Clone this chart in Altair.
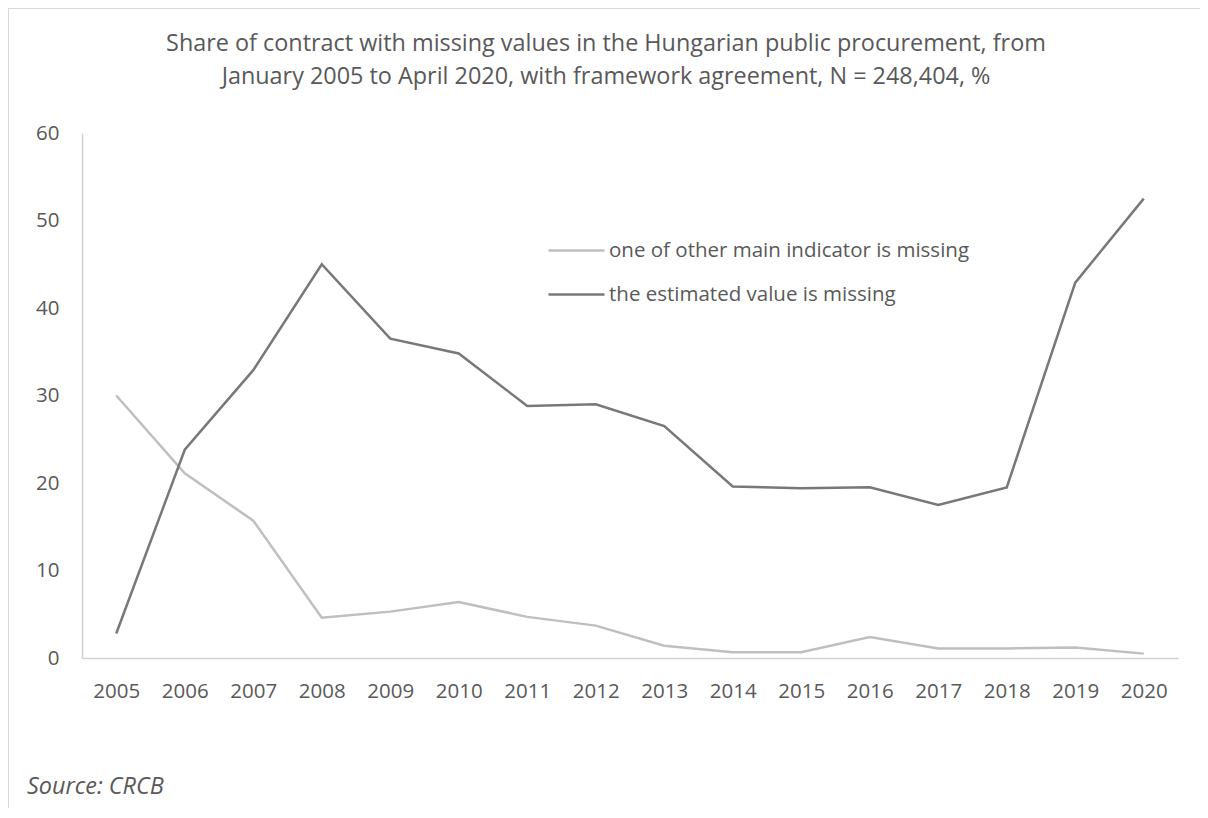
import altair as alt
import pandas as pd

years = ["2005", "2006", "2007", "2008", "2009", "2010", "2011", "2012",
         "2013", "2014", "2015", "2016", "2017", "2018", "2019", "2020"]
series_names = ["one of other main indicator is missing", "the estimated value is missing"]
other_missing = [30.0, 21.1, 15.7, 4.6, 5.3, 6.4, 4.7, 3.7, 1.4, 0.65, 0.65, 2.4, 1.1, 1.1, 1.2, 0.5]
estimated_missing = [2.8, 23.8, 32.9, 45.0, 36.5, 34.8, 28.8, 29.0, 26.5, 19.6, 19.4, 19.5, 17.5, 19.5, 42.9, 52.5]
y_ticks = [0, 10, 20, 30, 40, 50, 60]
title_lines = [
    "Share of contract with missing values in the Hungarian public procurement, from",
    "January 2005 to April 2020, with framework agreement, N = 248,404, %",
]
source_note = "Source: CRCB"

rows = []
for yr, v in zip(years, other_missing):
    rows.append({"year": yr, "share": v, "series": series_names[0]})
for yr, v in zip(years, estimated_missing):
    rows.append({"year": yr, "share": v, "series": series_names[1]})
df = pd.DataFrame(rows)

FONT = "Open Sans"
TEXT = "#595959"
AXIS = "#D0D0D0"
FRAME = "#D9D9D9"
FS = 20.5
FS_BIG = 23.4

lines = alt.Chart(df).mark_line(strokeWidth=2.5).encode(
    x=alt.X("year:O", sort=years, title=None,
            axis=alt.Axis(labelAngle=0, ticks=False, domainColor=AXIS, domainWidth=1.5,
                          labelPadding=23, labelFontSize=FS, labelColor=TEXT, labelFont=FONT)),
    y=alt.Y("share:Q", scale=alt.Scale(domain=[0, 60]), title=None,
            axis=alt.Axis(values=y_ticks, grid=False, ticks=False, domainColor=AXIS, domainWidth=1.5,
                          labelPadding=23, labelFontSize=FS, labelColor=TEXT, labelFont=FONT)),
    color=alt.Color("series:N",
                    scale=alt.Scale(domain=series_names, range=["#BFBFBF", "#787878"]),
                    legend=alt.Legend(title=None, orient="none", legendX=465, legendY=88,
                                      symbolType="stroke", symbolSize=3136, symbolStrokeWidth=2.5,
                                      labelFontSize=FS, labelFont=FONT, labelColor=TEXT,
                                      labelOffset=3, rowPadding=4, padding=0, labelLimit=0)),
)

frame_top = alt.Chart(alt.Data(values=[{}])).mark_rule(color=FRAME, strokeWidth=2).encode(
    x=alt.value(-74), x2=alt.value(1200), y=alt.value(-125))
frame_left = alt.Chart(alt.Data(values=[{}])).mark_rule(color=FRAME, strokeWidth=2).encode(
    x=alt.value(-74), y=alt.value(-126), y2=alt.value(720))

title = alt.Chart(alt.Data(values=[{"t": "\n".join(title_lines)}])).mark_text(
    align="center", baseline="top", lineBreak="\n", lineHeight=33,
    fontSize=FS_BIG, font=FONT, color=TEXT
).encode(x=alt.value(524), y=alt.value(-100), text="t:N")

source = alt.Chart(alt.Data(values=[{"t": source_note}])).mark_text(
    align="left", baseline="middle", fontStyle="italic", fontSize=FS_BIG, font=FONT, color=TEXT
).encode(x=alt.value(-55), y=alt.value(654), text="t:N")

chart = alt.layer(frame_top, frame_left, lines, title, source).properties(
    width=1096,
    height=525,
    autosize=alt.AutoSizeParams(type="none"),
    padding={"left": 74, "top": 125, "right": 22, "bottom": 150},
    background="white",
).configure_view(strokeWidth=0)

chart.save("out.html", embed_options={"renderer": "svg", "actions": False})
